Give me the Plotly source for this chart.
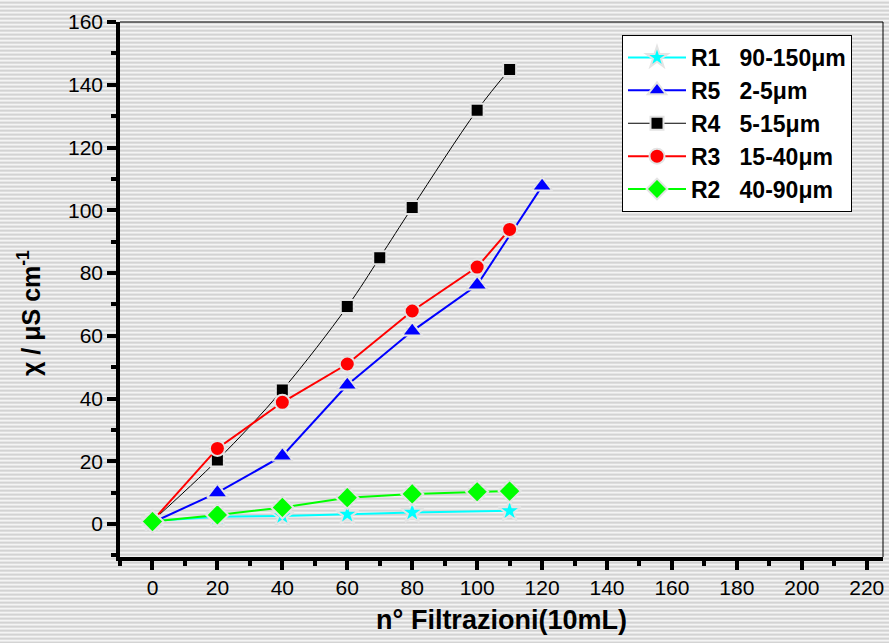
import base64
import plotly.graph_objects as go

# ---- data ----
r1_x = [0, 20, 40, 60, 80, 110]
r1_y = [1.0, 2.3, 2.6, 3.1, 3.7, 4.2]

r5_x = [0, 20, 40, 60, 80, 100, 120]
r5_y = [0.5, 10.0, 21.7, 44.3, 61.5, 76.2, 107.7]

r4_x = [0, 20, 40, 60, 70, 80, 100, 110]
r4_y = [1.0, 20.4, 42.7, 69.3, 84.9, 100.9, 131.9, 144.9]

r3_x = [0, 20, 40, 60, 80, 100, 110]
r3_y = [1.0, 24.1, 38.8, 51.0, 67.9, 81.9, 93.9]

r2_x = [0, 20, 40, 60, 80, 100, 110]
r2_y = [0.8, 2.9, 5.3, 8.4, 9.6, 10.3, 10.5]

names = ["R1   90-150μm", "R5   2-5μm", "R4   5-15μm", "R3   15-40μm", "R2   40-90μm"]

x_ticks = list(range(0, 221, 20))
y_ticks = list(range(0, 161, 20))

# ---- layout geometry ----
W, H = 889, 643
ml, mr, mt, mb = 120, 6, 22, 86
pw, ph = W - ml - mr, H - mt - mb

FONT = "Arial, 'Liberation Sans', sans-serif"
BG = "#e4e4e4"

# striped background as an inline SVG pattern
svg = (
    f'<svg xmlns="http://www.w3.org/2000/svg" width="{W}" height="{H}">'
    '<defs><pattern id="p" width="4" height="4" patternUnits="userSpaceOnUse">'
    '<rect x="0" y="0" width="4" height="1" fill="#f4f4f4"/>'
    '<rect x="0" y="1" width="4" height="1" fill="#e6e6e6"/>'
    '<rect x="0" y="2" width="4" height="1" fill="#d3d3d3"/>'
    '<rect x="0" y="3" width="4" height="1" fill="#dedede"/>'
    '</pattern></defs>'
    f'<rect width="{W}" height="{H}" fill="url(#p)"/></svg>'
)
bg_uri = "data:image/svg+xml;base64," + base64.b64encode(svg.encode()).decode()

fig = go.Figure()

series = [
    (r1_x, r1_y, names[0], "#00ffff", 2, "star", 17, "linear"),
    (r5_x, r5_y, names[1], "#0000ff", 2, "triangle-up", 18, "linear"),
    (r4_x, r4_y, names[2], "#000000", 1, "square", 13, "spline"),
    (r3_x, r3_y, names[3], "#ff0000", 2, "circle", 15, "linear"),
    (r2_x, r2_y, names[4], "#00ff00", 2, "diamond", 17, "linear"),
]
for i, (xs, ys, nm, col, lw, sym, ms, shp) in enumerate(series):
    fig.add_trace(go.Scatter(
        x=xs, y=ys, name=nm, mode="lines+markers",
        legendgroup=f"g{i}",
        line=dict(color=col, width=lw, shape=shp),
        marker=dict(symbol=sym, size=ms, color=col,
                    line=dict(color=BG, width=2)),
    ))

fig.update_layout(
    width=W, height=H,
    margin=dict(l=ml, r=mr, t=mt, b=mb, pad=0),
    paper_bgcolor="rgba(0,0,0,0)",
    plot_bgcolor="rgba(0,0,0,0)",
    font=dict(family=FONT, size=20, color="black"),
    showlegend=True,
    legend=dict(
        x=(622 - ml) / pw, y=(H - mb - 35) / ph,
        xanchor="left", yanchor="top",
        bgcolor="white", bordercolor="black", borderwidth=1,
        font=dict(family=FONT, size=23, color="black", weight="bold"),
        tracegroupgap=0, itemwidth=58,
    ),
    images=[dict(
        source=bg_uri, xref="paper", yref="paper",
        x=-ml / pw, y=1 + mt / ph, sizex=W / pw, sizey=H / ph,
        xanchor="left", yanchor="top", sizing="stretch", layer="below",
    )],
    shapes=[
        dict(type="line", xref="paper", yref="paper", x0=0, x1=1, y0=1, y1=1,
             line=dict(color="black", width=1)),
        dict(type="line", xref="paper", yref="paper", x0=1, x1=1, y0=0, y1=1,
             line=dict(color="black", width=1)),
    ],
    annotations=[dict(
        text="<b>χ / μS cm<sup>-1</sup></b>", textangle=-90,
        xref="paper", yref="paper",
        x=(29 - ml) / pw, y=(H - mb - 313) / ph,
        xanchor="center", yanchor="middle", showarrow=False,
        font=dict(family=FONT, size=25, color="black"),
    )],
)

fig.update_xaxes(
    range=[-10, 225], tickvals=x_ticks, ticktext=[str(v) for v in x_ticks],
    ticks="outside", ticklen=9, tickwidth=3.5, tickcolor="black",
    showline=True, linewidth=3.5, linecolor="black",
    showgrid=False, zeroline=False,
    minor=dict(dtick=10, tick0=0, ticks="outside", ticklen=5, tickwidth=3.5,
               tickcolor="black", showgrid=False),
    tickfont=dict(family=FONT, size=21, color="black"),
    title=dict(text="n° Filtrazioni(10mL)", standoff=13,
               font=dict(family=FONT, size=27, color="black", weight="bold")),
)
fig.update_yaxes(
    range=[-10.5, 160], tickvals=y_ticks, ticktext=[str(v) for v in y_ticks],
    ticks="outside", ticklen=9, tickwidth=3.5, tickcolor="black",
    showline=True, linewidth=3.5, linecolor="black",
    showgrid=False, zeroline=False,
    minor=dict(dtick=10, tick0=0, ticks="outside", ticklen=5, tickwidth=3.5,
               tickcolor="black", showgrid=False),
    tickfont=dict(family=FONT, size=21, color="black"),
)

fig.write_html("out.html")
